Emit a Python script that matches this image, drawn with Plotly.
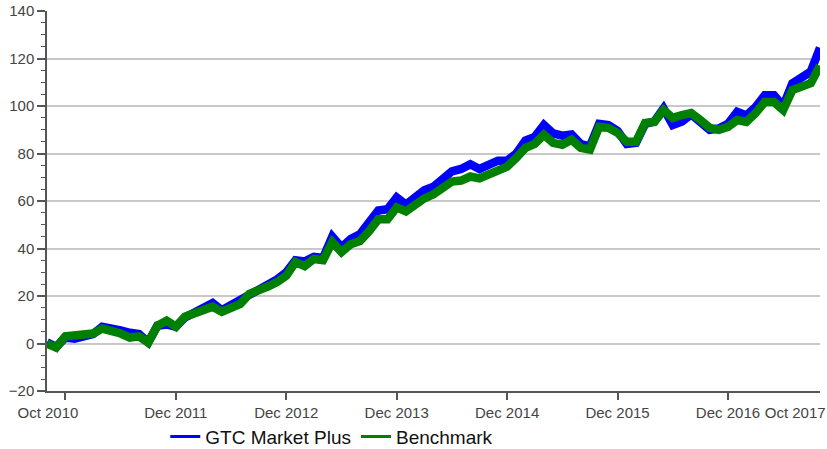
import plotly.graph_objects as go

# Monthly observation index (0 = first point on the chart)
months = list(range(85))

gtc_market_plus = [
    0.5, -1.5, 2.5, 2, 3, 4, 7, 6.5, 5.5, 4.5,
    4, 0.5, 7.5, 8, 7, 11, 13, 14.5, 17, 14,
    16, 18, 21, 22.5, 25, 27, 30, 35, 34.5, 36.5,
    36, 45, 40.5, 44, 46, 51, 56, 56.5, 61.5, 58.5,
    62, 64.5, 66, 69, 72.5, 73.5, 75.5, 73.5, 75.5, 77,
    77, 80, 85.5, 87, 92, 88.5, 87.5, 88, 84, 83,
    92.5, 92, 89.5, 84, 84.5, 92.5, 93.5, 99, 92, 93.5,
    96.5, 93, 90, 90.5, 92.5, 97.5, 96, 99.5, 104.5, 104.5,
    100, 109.5, 111.5, 114.5, 124.5,
]

benchmark = [
    0, -1.7, 3, 3.3, 3.6, 4.2, 6.3, 5.4, 4.2, 2.5,
    3, 0.4, 7.5, 9.6, 7.1, 11.3, 13, 14.2, 15.5, 13.4,
    15, 16.7, 20.9, 22.2, 24, 25.9, 28.5, 34.3, 32.6, 35.6,
    35.1, 42.7, 38.5, 41.8, 43.1, 47.3, 52.3, 52.3, 57.3, 55.6,
    58.6, 61.1, 62.8, 65.3, 68.2, 68.6, 70.3, 69.5, 71.1, 73.2,
    74.5, 78.2, 82.4, 84, 87.9, 84.5, 83.7, 85.8, 82.4, 81.6,
    91.2, 90.8, 88.7, 84.9, 84.9, 92.9, 93.3, 98.3, 95, 96.2,
    97, 94.1, 90.8, 90, 91.2, 94.1, 93.3, 97, 101.7, 101.7,
    98.3, 106.7, 108, 109.6, 117,
]

# label positions (first/last label sit at the chart ends) and tick-mark positions
label_positions = [0.1, 14, 26, 38, 50, 62, 74, 81.3]
tick_labels = ["Oct 2010", "Dec 2011", "Dec 2012", "Dec 2013",
               "Dec 2014", "Dec 2015", "Dec 2016", "Oct 2017"]
tick_mark_positions = [2, 14, 26, 38, 50, 62, 74]

BLUE = "#0000ff"
GREEN = "#008000"
FONT = "Liberation Sans"
AXIS = "#555"

fig = go.Figure()
# GTC on the base x-axis (tick marks), Benchmark on the overlay axis (labels, drawn on top)
fig.add_trace(go.Scatter(x=months, y=gtc_market_plus, mode="lines", xaxis="x",
                         line=dict(color=BLUE, width=8.5), showlegend=False,
                         name="GTC Market Plus"))
fig.add_trace(go.Scatter(x=months, y=benchmark, mode="lines", xaxis="x2",
                         line=dict(color=GREEN, width=8.5), showlegend=False,
                         name="Benchmark"))
# legend-only entries with thin line symbols
fig.add_trace(go.Scatter(x=[None], y=[None], mode="lines", xaxis="x",
                         line=dict(color=BLUE, width=3), name="GTC Market Plus"))
fig.add_trace(go.Scatter(x=[None], y=[None], mode="lines", xaxis="x2",
                         line=dict(color=GREEN, width=3), name="Benchmark"))

fig.update_layout(
    width=827, height=449,
    margin=dict(l=47, r=7, t=11, b=58, autoexpand=False),
    paper_bgcolor="white", plot_bgcolor="white",
    font=dict(family=FONT, size=15, color="#444"),
    hovermode=False,
    legend=dict(orientation="h", x=0.153, xanchor="left", y=-0.07, yanchor="top",
                font=dict(family=FONT, size=19, color="#111"),
                itemwidth=30, bgcolor="rgba(0,0,0,0)"),
    xaxis=dict(range=[0, 84], tickvals=tick_mark_positions, showticklabels=False,
               automargin=False, showgrid=False, zeroline=False, showline=True,
               linecolor=AXIS, linewidth=1.5, ticks="outside", ticklen=7,
               tickcolor=AXIS, tickwidth=1.5),
    xaxis2=dict(range=[0, 84], overlaying="x", side="bottom", anchor="y",
                tickvals=label_positions, ticktext=tick_labels, tickangle=0,
                automargin=False, showgrid=False, zeroline=False,
                showline=False, ticks="outside", ticklen=8,
                tickcolor="rgba(0,0,0,0)",
                tickfont=dict(family=FONT, size=15, color="#444")),
    yaxis=dict(range=[-20, 140], dtick=20, tick0=0, automargin=False,
               showgrid=True, gridcolor="#c8c8c8", gridwidth=1.5,
               zeroline=False, showline=True, linecolor=AXIS, linewidth=1.5,
               ticks="outside", ticklen=8, tickcolor=AXIS, tickwidth=1.5,
               tickfont=dict(family=FONT, size=15, color="#444"),
               minor=dict(dtick=5, ticks="outside", ticklen=4,
                          tickcolor=AXIS, tickwidth=1, showgrid=False)),
)

fig.write_html("out.html",
               config={"displayModeBar": False},
               post_script="document.body.style.margin='0';")
